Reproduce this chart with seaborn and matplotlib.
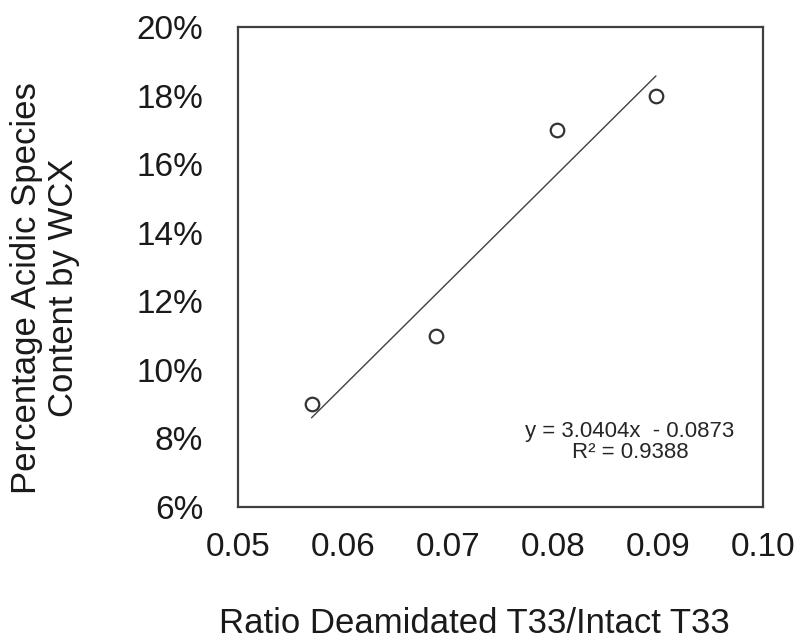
import matplotlib
matplotlib.use("Agg")
import matplotlib.pyplot as plt
import seaborn as sns
import numpy as np
import pandas as pd
from matplotlib.ticker import FuncFormatter

# ---- data ----
ratio = [0.0570, 0.0689, 0.0804, 0.0898]
acidic = [0.09, 0.11, 0.17, 0.18]
slope = 3.0404
intercept = -0.0873
r_squared = 0.9388
x_ticks = [0.05, 0.06, 0.07, 0.08, 0.09, 0.10]
y_ticks = [0.06, 0.08, 0.10, 0.12, 0.14, 0.16, 0.18, 0.20]

sns.set_style("white")
plt.rcParams["font.family"] = ["Liberation Sans", "DejaVu Sans"]

df = pd.DataFrame({"ratio": ratio, "acidic": acidic})
fit_x = np.array([min(ratio), max(ratio)])
fit_df = pd.DataFrame({"x": fit_x, "y": slope * fit_x + intercept})

fig = plt.figure(figsize=(8.05, 6.44), dpi=100)
ax = fig.add_axes([238 / 805, 1 - 507 / 644, 525 / 805, 480 / 644])

sns.lineplot(data=fit_df, x="x", y="y", ax=ax, color="#404040", linewidth=1.0)
sns.scatterplot(data=df, x="ratio", y="acidic", ax=ax, s=95, marker="o",
                facecolor="white", edgecolor="#333333", linewidth=1.6, zorder=3)

ax.set_xlim(x_ticks[0], x_ticks[-1])
ax.set_ylim(y_ticks[0], y_ticks[-1])
ax.set_xticks(x_ticks)
ax.set_yticks(y_ticks)
ax.xaxis.set_major_formatter(FuncFormatter(lambda v, p: f"{v:.2f}"))
ax.yaxis.set_major_formatter(FuncFormatter(lambda v, p: f"{v*100:.0f}%"))

for s in ax.spines.values():
    s.set_visible(True)
    s.set_color("#404040")
    s.set_linewidth(1.6)

ax.tick_params(axis="both", direction="in", length=6, width=1.4, color="#404040",
               labelsize=24, labelcolor="#1a1a1a")
ax.tick_params(axis="y", pad=25, right=False)
ax.tick_params(axis="x", pad=18, top=False)

ax.set_xlabel("Ratio Deamidated T33/Intact T33", fontsize=25, color="#1a1a1a",
              va="baseline", ha="center")
ax.xaxis.set_label_coords(0.450, -0.2625)
ax.set_ylabel("Percentage Acidic Species\nContent by WCX", fontsize=25,
              color="#1a1a1a", va="center", ha="center", linespacing=1.15)
ax.yaxis.set_label_coords(-0.3676, 0.456)

ax.text(0.08733, 0.0804, f"y = {slope:.4f}x  - {abs(intercept):.4f}",
        fontsize=16, ha="center", va="baseline", color="#262626")
ax.text(0.08733, 0.0743, f"R² = {r_squared:.4f}",
        fontsize=16, ha="center", va="baseline", color="#262626")

fig.savefig("out.png", dpi=100, facecolor="white")
